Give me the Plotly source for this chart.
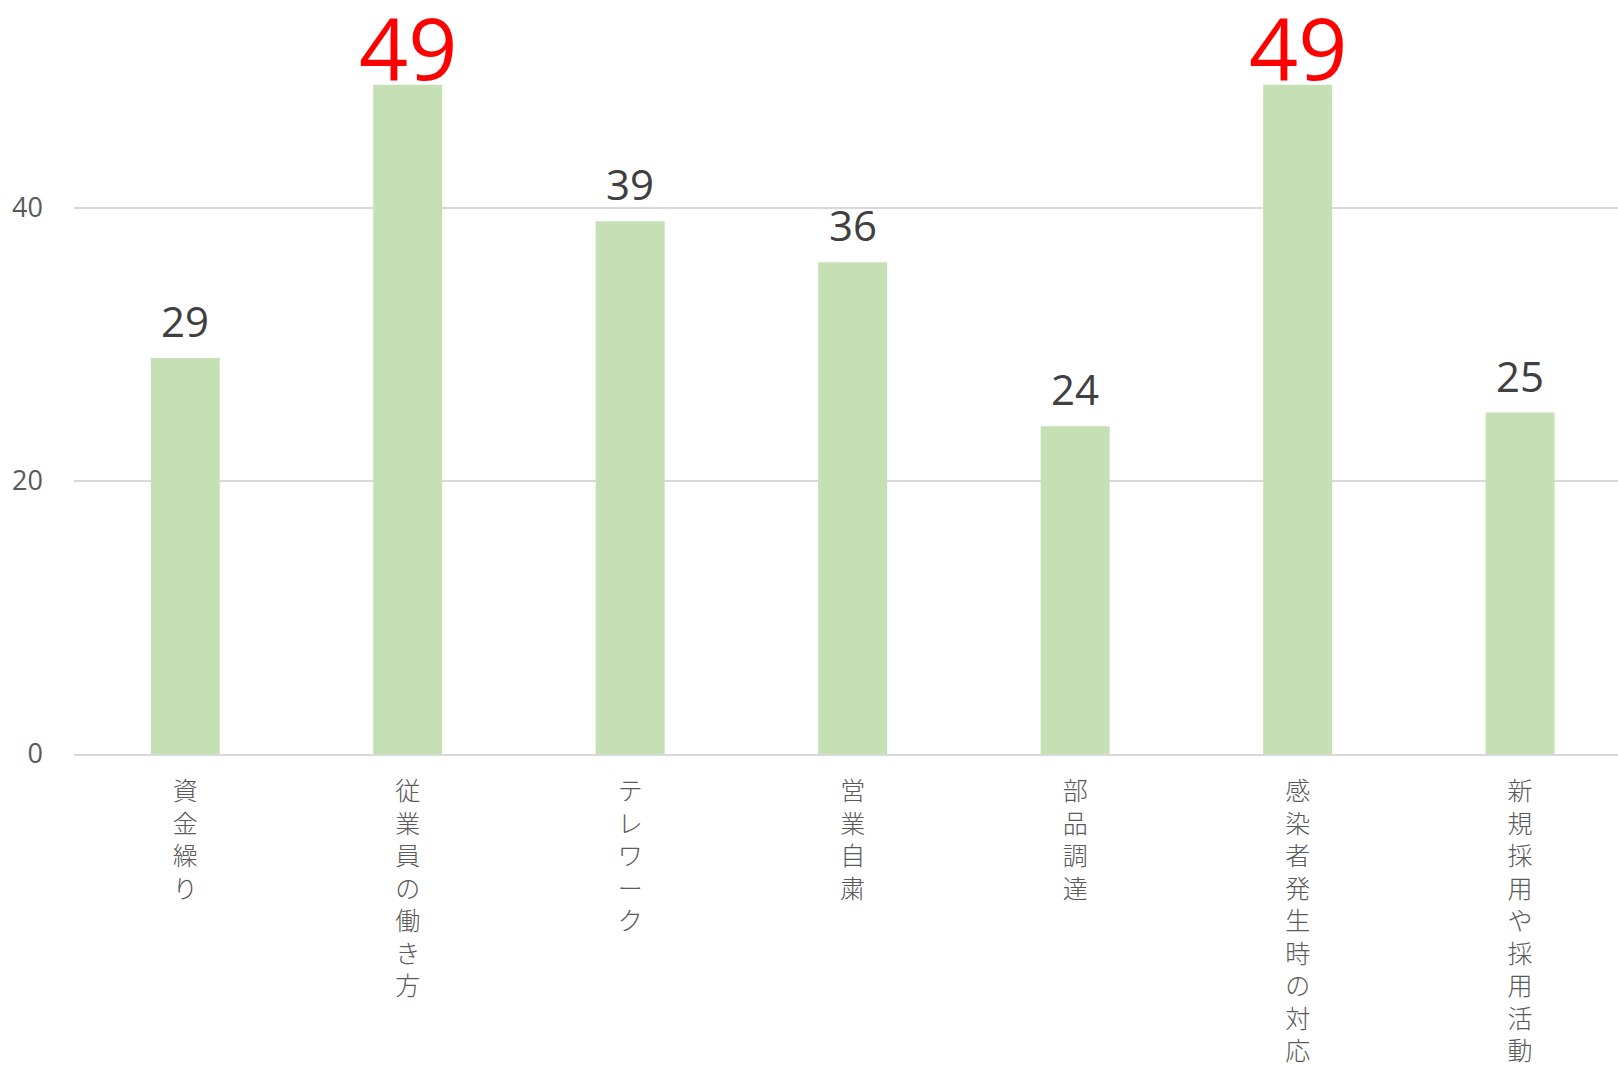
import plotly.graph_objects as go

categories = ["資金繰り", "従業員の働き方", "テレワーク", "営業自粛", "部品調達", "感染者発生時の対応", "新規採用や採用活動"]
values = [29, 49, 39, 36, 24, 49, 25]
highlight = [False, True, False, False, False, True, False]
y_ticks = [0, 20, 40]

BAR_COLOR = "#C5E0B4"
GRID_COLOR = "#D9D9D9"
TICK_COLOR = "#595959"
LABEL_STYLE = {False: dict(size=42, color="#404040", yshift=7),
               True: dict(size=86, color="#FF0000", yshift=-22)}

vertical_text = ["<br>".join(list(c)) for c in categories]

fig = go.Figure()
fig.add_trace(go.Bar(x=categories, y=values, marker=dict(color=BAR_COLOR, line=dict(width=0)),
                     hoverinfo="x+y", showlegend=False))

for c, v, h in zip(categories, values, highlight):
    st = LABEL_STYLE[h]
    fig.add_annotation(x=c, y=v, text=str(v), showarrow=False, yanchor="bottom",
                       yshift=st["yshift"],
                       font=dict(family="Open Sans, Noto Sans", size=st["size"], color=st["color"]))

fig.update_layout(
    width=1618, height=1065,
    margin=dict(l=74, r=0, t=0, b=311),
    plot_bgcolor="white", paper_bgcolor="white",
    bargap=0.69,
    xaxis=dict(tickmode="array", tickvals=categories, ticktext=vertical_text, tickangle=0,
               range=[-0.5, 6.44],
               tickfont=dict(family="Noto Sans CJK JP", size=25, color=TICK_COLOR, weight=300),
               showline=True, linecolor=GRID_COLOR, linewidth=2, ticks="", showgrid=False,
               ticklabelstandoff=14, automargin=False),
    yaxis=dict(range=[0, 55.2], tickvals=y_ticks, showgrid=True, gridcolor=GRID_COLOR, gridwidth=2,
               zeroline=False, showline=False, ticks="",
               tickfont=dict(family="Open Sans, Noto Sans", size=27, color=TICK_COLOR),
               ticklabelstandoff=30, automargin=False),
)

fig.write_html("out.html", config={"displayModeBar": False},
               post_script="document.body.style.margin='0';document.body.style.overflow='hidden';")
